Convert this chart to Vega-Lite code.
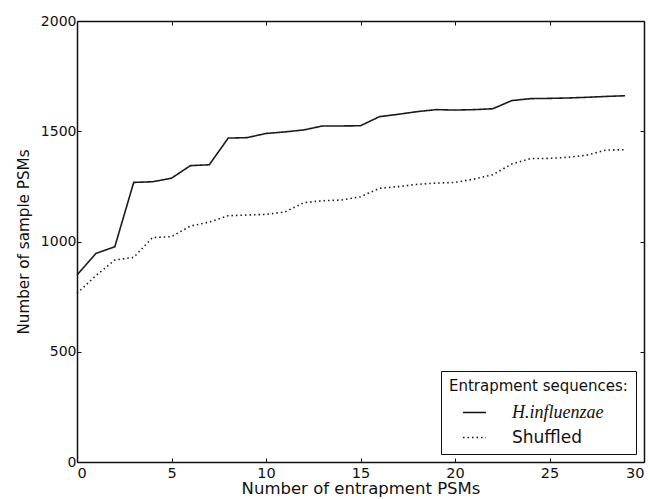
{
  "$schema": "https://vega.github.io/schema/vega-lite/v6.json",
  "autosize": "none",
  "width": 567,
  "height": 441,
  "padding": {"left": 77, "top": 21, "right": 10, "bottom": 37},
  "background": "white",
  "config": {
    "view": {"stroke": null},
    "font": "DejaVu Sans",
    "axis": {
      "domainColor": "#111",
      "domainWidth": 1.5,
      "tickColor": "#111",
      "tickSize": -4,
      "tickWidth": 1,
      "grid": false,
      "format": "d",
      "labelFont": "DejaVu Sans",
      "labelFontSize": 14,
      "labelColor": "#111",
      "titleFont": "DejaVu Sans",
      "titleFontSize": 15.2,
      "titleFontWeight": "normal",
      "titleColor": "#111"
    }
  },
  "data": {
    "values": [
      {"x": 0, "n": 848, "series": "H.influenzae"},
      {"x": 1, "n": 946, "series": "H.influenzae"},
      {"x": 2, "n": 976, "series": "H.influenzae"},
      {"x": 3, "n": 1268, "series": "H.influenzae"},
      {"x": 4, "n": 1271, "series": "H.influenzae"},
      {"x": 5, "n": 1287, "series": "H.influenzae"},
      {"x": 6, "n": 1344, "series": "H.influenzae"},
      {"x": 7, "n": 1348, "series": "H.influenzae"},
      {"x": 8, "n": 1469, "series": "H.influenzae"},
      {"x": 9, "n": 1471, "series": "H.influenzae"},
      {"x": 10, "n": 1490, "series": "H.influenzae"},
      {"x": 11, "n": 1497, "series": "H.influenzae"},
      {"x": 12, "n": 1506, "series": "H.influenzae"},
      {"x": 13, "n": 1524, "series": "H.influenzae"},
      {"x": 14, "n": 1524, "series": "H.influenzae"},
      {"x": 15, "n": 1525, "series": "H.influenzae"},
      {"x": 16, "n": 1566, "series": "H.influenzae"},
      {"x": 17, "n": 1577, "series": "H.influenzae"},
      {"x": 18, "n": 1589, "series": "H.influenzae"},
      {"x": 19, "n": 1598, "series": "H.influenzae"},
      {"x": 20, "n": 1596, "series": "H.influenzae"},
      {"x": 21, "n": 1598, "series": "H.influenzae"},
      {"x": 22, "n": 1602, "series": "H.influenzae"},
      {"x": 23, "n": 1639, "series": "H.influenzae"},
      {"x": 24, "n": 1648, "series": "H.influenzae"},
      {"x": 25, "n": 1649, "series": "H.influenzae"},
      {"x": 26, "n": 1651, "series": "H.influenzae"},
      {"x": 27, "n": 1654, "series": "H.influenzae"},
      {"x": 28, "n": 1658, "series": "H.influenzae"},
      {"x": 29, "n": 1661, "series": "H.influenzae"},
      {"x": 0, "n": 765, "series": "Shuffled"},
      {"x": 1, "n": 845, "series": "Shuffled"},
      {"x": 2, "n": 916, "series": "Shuffled"},
      {"x": 3, "n": 928, "series": "Shuffled"},
      {"x": 4, "n": 1018, "series": "Shuffled"},
      {"x": 5, "n": 1022, "series": "Shuffled"},
      {"x": 6, "n": 1070, "series": "Shuffled"},
      {"x": 7, "n": 1088, "series": "Shuffled"},
      {"x": 8, "n": 1117, "series": "Shuffled"},
      {"x": 9, "n": 1120, "series": "Shuffled"},
      {"x": 10, "n": 1123, "series": "Shuffled"},
      {"x": 11, "n": 1134, "series": "Shuffled"},
      {"x": 12, "n": 1176, "series": "Shuffled"},
      {"x": 13, "n": 1185, "series": "Shuffled"},
      {"x": 14, "n": 1188, "series": "Shuffled"},
      {"x": 15, "n": 1203, "series": "Shuffled"},
      {"x": 16, "n": 1241, "series": "Shuffled"},
      {"x": 17, "n": 1249, "series": "Shuffled"},
      {"x": 18, "n": 1259, "series": "Shuffled"},
      {"x": 19, "n": 1265, "series": "Shuffled"},
      {"x": 20, "n": 1268, "series": "Shuffled"},
      {"x": 21, "n": 1283, "series": "Shuffled"},
      {"x": 22, "n": 1303, "series": "Shuffled"},
      {"x": 23, "n": 1351, "series": "Shuffled"},
      {"x": 24, "n": 1376, "series": "Shuffled"},
      {"x": 25, "n": 1377, "series": "Shuffled"},
      {"x": 26, "n": 1382, "series": "Shuffled"},
      {"x": 27, "n": 1392, "series": "Shuffled"},
      {"x": 28, "n": 1415, "series": "Shuffled"},
      {"x": 29, "n": 1416, "series": "Shuffled"}
    ]
  },
  "layer": [
    {
      "mark": {"type": "line", "color": "#1a1a1a", "strokeWidth": 1.6},
      "encoding": {
        "x": {
          "field": "x", "type": "quantitative",
          "scale": {"domain": [0, 30], "nice": false, "zero": false},
          "axis": {"orient": "bottom", "values": [0, 5, 10, 15, 20, 25, 30], "title": "Number of entrapment PSMs", "labelFontSize": 14.5, "labelPadding": 8, "titlePadding": 1, "titleFontSize": 16.5}
        },
        "y": {
          "field": "n", "type": "quantitative",
          "scale": {"domain": [0, 2000], "nice": false},
          "axis": {"orient": "left", "values": [0, 500, 1000, 1500, 2000], "title": "Number of sample PSMs", "labelPadding": 5, "titlePadding": 9}
        },
        "strokeDash": {
          "field": "series", "type": "nominal",
          "scale": {"domain": ["H.influenzae", "Shuffled"], "range": [[1, 0], [1.5, 3]]},
          "legend": {
            "title": "Entrapment sequences:",
            "orient": "bottom-right",
            "offset": 8,
            "padding": 8,
            "strokeColor": "#111",
            "fillColor": "white",
            "cornerRadius": 0,
            "titleFont": "DejaVu Sans",
            "titleFontSize": 15,
            "titleFontWeight": "normal",
            "titleColor": "#111",
            "titlePadding": 6,
            "labelFont": "DejaVu Sans",
            "labelFontSize": 17,
            "labelColor": "#111",
            "symbolOffset": 13,
            "labelOffset": 25,
            "rowPadding": 3,
            "symbolType": "stroke",
            "symbolSize": 529,
            "symbolStrokeWidth": 1.5,
            "symbolStrokeColor": "#111",
            "encode": {
              "labels": {
                "update": {
                  "font": {"signal": "datum.label == 'H.influenzae' ? 'Liberation Serif' : 'DejaVu Sans'"},
                  "fontStyle": {"signal": "datum.label == 'H.influenzae' ? 'italic' : 'normal'"},
                  "fontSize": {"signal": "datum.label == 'H.influenzae' ? 18 : 17"}
                }
              }
            }
          }
        }
      }
    },
    {
      "mark": {"type": "line", "opacity": 0},
      "encoding": {
        "x": {
          "field": "x", "type": "quantitative",
          "scale": {"domain": [0, 30], "nice": false, "zero": false},
          "axis": {"orient": "top", "values": [0, 5, 10, 15, 20, 25, 30], "labels": false, "title": null}
        },
        "y": {
          "field": "n", "type": "quantitative",
          "scale": {"domain": [0, 2000], "nice": false},
          "axis": {"orient": "right", "values": [0, 500, 1000, 1500, 2000], "labels": false, "title": null}
        },
        "detail": {"field": "series"}
      }
    }
  ],
  "resolve": {"axis": {"x": "independent", "y": "independent"}}
}
